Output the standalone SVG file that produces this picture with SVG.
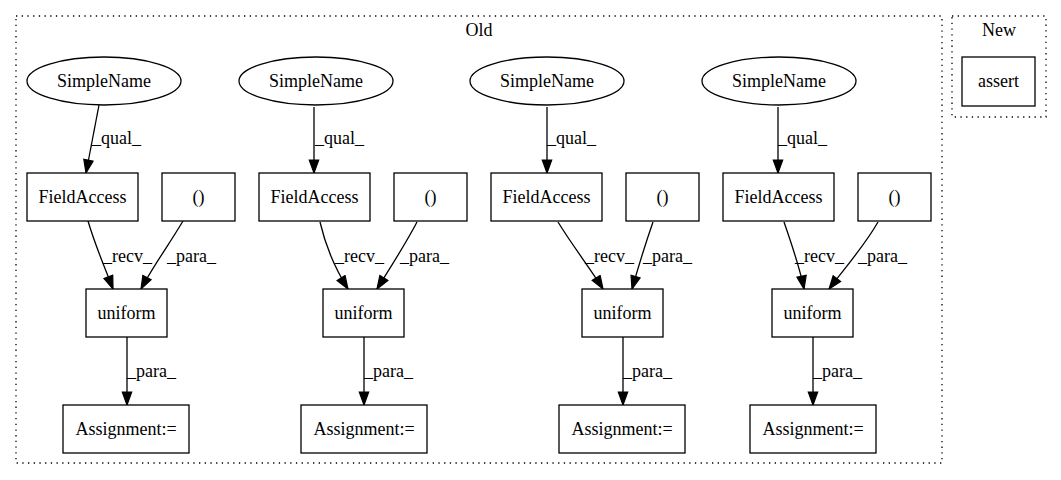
<svg xmlns="http://www.w3.org/2000/svg" width="1061" height="480" viewBox="0 0 1061 480">
<style>
text{font-family:"Liberation Serif","DejaVu Serif",serif;font-size:18px;fill:#000}
.n{fill:#fff;stroke:#000;stroke-width:1.3}
.c{fill:none;stroke:#000;stroke-width:1.3;stroke-dasharray:1.3,4.4}
.e{fill:none;stroke:#000;stroke-width:1.3;marker-end:url(#a)}
.m{text-anchor:middle}
</style>
<defs>
<marker id="a" markerUnits="userSpaceOnUse" markerWidth="16" markerHeight="12" refX="14" refY="5.5" orient="auto">
<path d="M1,0.8 L14,5.5 L1,10.2 z" fill="#000" stroke="#000" stroke-width="1.2"/>
</marker>
</defs>
<rect width="1061" height="480" fill="#fff"/>
<g id="cluster_old">
<rect class="c" x="16" y="16" width="926" height="447"/>
<text class="m" x="479" y="36">Old</text>
</g>
<g id="cluster_new">
<rect class="c" x="952" y="16" width="94" height="101"/>
<text class="m" x="999" y="36">New</text>
</g>
<g id="connectors">
<path class="e" d="M99,105 L86,173"/>
<path class="e" d="M88,221 C95,245 105,268 113,289"/>
<path class="e" d="M183,221 C170,243 152,268 141,289"/>
<path class="e" d="M127,337 L127,405"/>
<path class="e" d="M314,107 L314,173"/>
<path class="e" d="M320,222 C326,248 336,270 348,289"/>
<path class="e" d="M417,222 C405,245 390,268 377,289"/>
<path class="e" d="M364,337 L364,405"/>
<path class="e" d="M547,107 L547,173"/>
<path class="e" d="M558,222 C572,245 590,268 603,289"/>
<path class="e" d="M653,222 C645,245 638,268 632,289"/>
<path class="e" d="M623,337 L623,405"/>
<path class="e" d="M778,107 L778,173"/>
<path class="e" d="M784,222 C792,245 800,268 804,289"/>
<path class="e" d="M878,222 C865,245 845,268 829,289"/>
<path class="e" d="M813,337 L813,405"/>
<text x="92" y="144">_qual_</text>
<text x="103" y="262">_recv_</text>
<text x="167" y="262">_para_</text>
<text x="127" y="377">_para_</text>
<text x="315" y="144">_qual_</text>
<text x="335" y="262">_recv_</text>
<text x="400" y="262">_para_</text>
<text x="364" y="377">_para_</text>
<text x="547" y="144">_qual_</text>
<text x="585" y="262">_recv_</text>
<text x="643" y="262">_para_</text>
<text x="623" y="377">_para_</text>
<text x="778" y="144">_qual_</text>
<text x="795" y="262">_recv_</text>
<text x="858" y="262">_para_</text>
<text x="813" y="377">_para_</text>
</g>
<g id="simplename1"><ellipse class="n" cx="104" cy="81" rx="77" ry="24"/><text class="m" x="104" y="87">SimpleName</text></g>
<g id="fieldaccess1"><rect class="n" x="27" y="173" width="111" height="48"/><text class="m" x="82.5" y="203">FieldAccess</text></g>
<g id="paren1"><rect class="n" x="162" y="173" width="73" height="48"/><text class="m" x="198.5" y="203">()</text></g>
<g id="uniform1"><rect class="n" x="86" y="289" width="81" height="48"/><text class="m" x="126.5" y="319">uniform</text></g>
<g id="assign1"><rect class="n" x="63" y="405" width="126" height="48"/><text class="m" x="126" y="435">Assignment:=</text></g>
<g id="simplename2"><ellipse class="n" cx="316" cy="81" rx="77" ry="24"/><text class="m" x="316" y="87">SimpleName</text></g>
<g id="fieldaccess2"><rect class="n" x="259" y="173" width="111" height="48"/><text class="m" x="314.5" y="203">FieldAccess</text></g>
<g id="paren2"><rect class="n" x="394" y="173" width="73" height="48"/><text class="m" x="430.5" y="203">()</text></g>
<g id="uniform2"><rect class="n" x="323" y="289" width="81" height="48"/><text class="m" x="363.5" y="319">uniform</text></g>
<g id="assign2"><rect class="n" x="301" y="405" width="126" height="48"/><text class="m" x="364" y="435">Assignment:=</text></g>
<g id="simplename3"><ellipse class="n" cx="547" cy="81" rx="77" ry="24"/><text class="m" x="547" y="87">SimpleName</text></g>
<g id="fieldaccess3"><rect class="n" x="491" y="173" width="111" height="48"/><text class="m" x="546.5" y="203">FieldAccess</text></g>
<g id="paren3"><rect class="n" x="626" y="173" width="73" height="48"/><text class="m" x="662.5" y="203">()</text></g>
<g id="uniform3"><rect class="n" x="582" y="289" width="81" height="48"/><text class="m" x="622.5" y="319">uniform</text></g>
<g id="assign3"><rect class="n" x="559" y="405" width="126" height="48"/><text class="m" x="622" y="435">Assignment:=</text></g>
<g id="simplename4"><ellipse class="n" cx="779" cy="81" rx="77" ry="24"/><text class="m" x="779" y="87">SimpleName</text></g>
<g id="fieldaccess4"><rect class="n" x="723" y="173" width="111" height="48"/><text class="m" x="778.5" y="203">FieldAccess</text></g>
<g id="paren4"><rect class="n" x="858" y="173" width="73" height="48"/><text class="m" x="894.5" y="203">()</text></g>
<g id="uniform4"><rect class="n" x="772" y="289" width="81" height="48"/><text class="m" x="812.5" y="319">uniform</text></g>
<g id="assign4"><rect class="n" x="750" y="405" width="126" height="48"/><text class="m" x="813" y="435">Assignment:=</text></g>
<g id="assert"><rect class="n" x="962" y="57" width="73" height="49"/><text class="m" x="998.5" y="87">assert</text></g>
</svg>
